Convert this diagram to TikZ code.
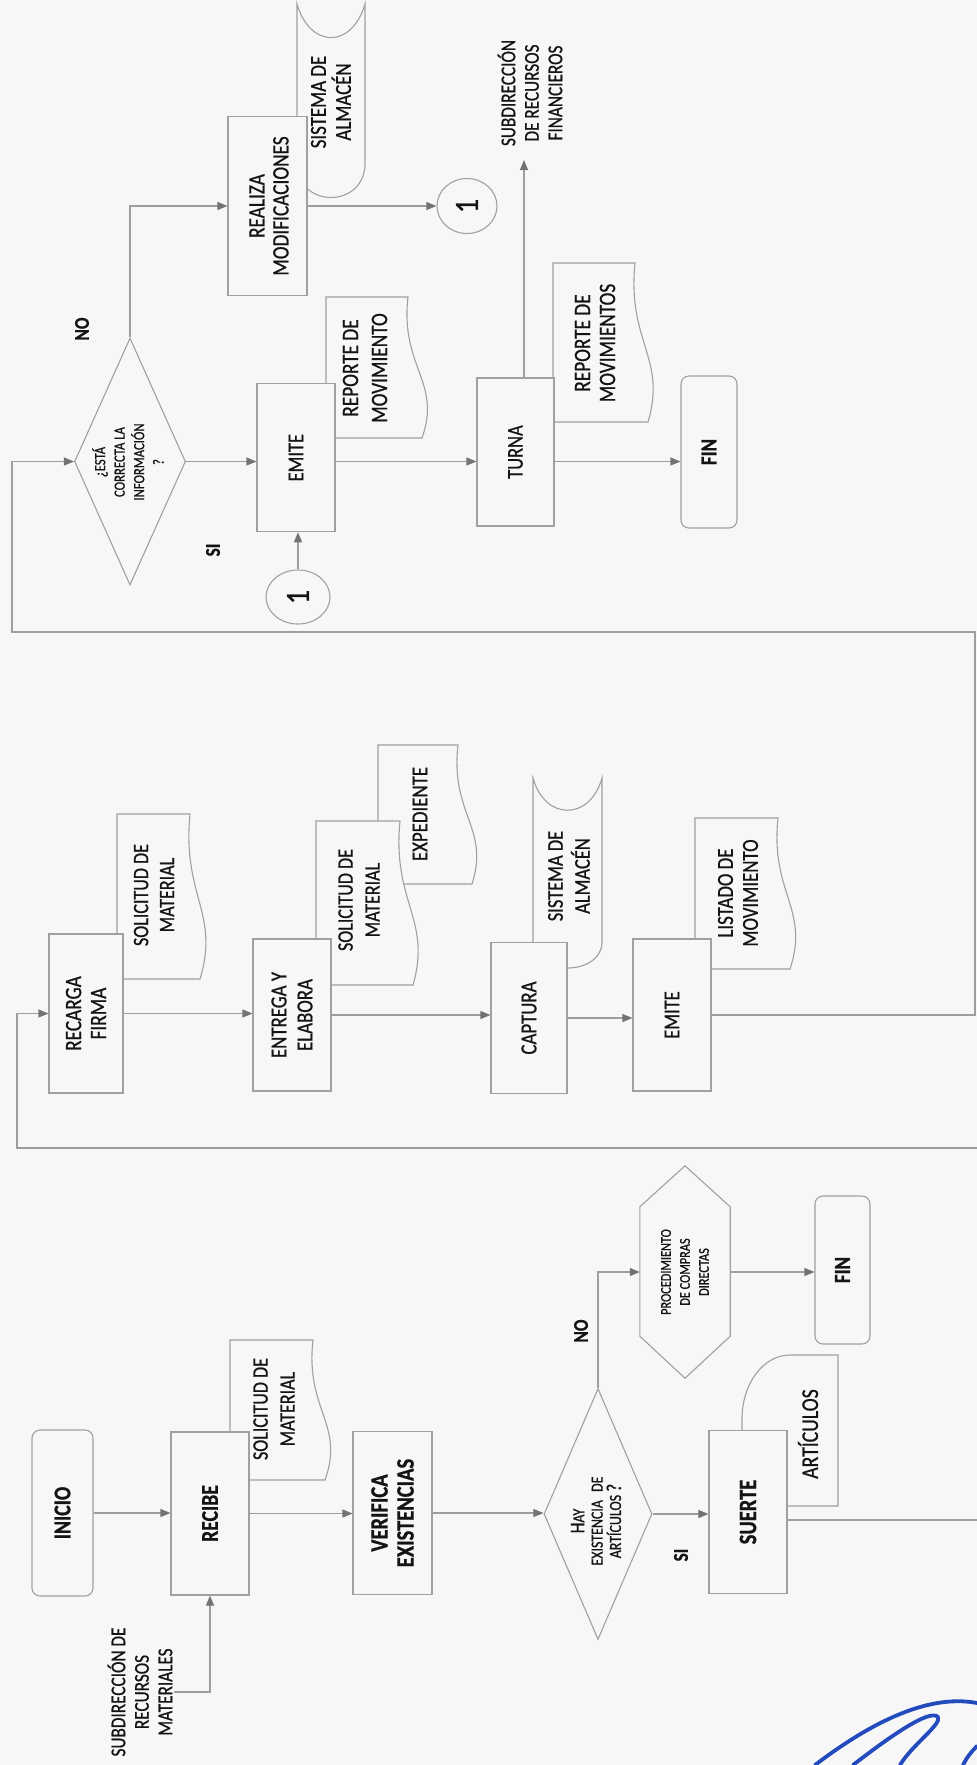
\documentclass[tikz,border=0pt]{standalone}
\usepackage{fontspec}
\setmainfont{Carlito}[FakeStretch=0.82, FakeBold=0.8]
\usetikzlibrary{arrows.meta,shapes.geometric,calc}
\definecolor{bg}{RGB}{247,247,247}
\definecolor{boxc}{RGB}{160,160,160}
\definecolor{linec}{RGB}{158,158,158}
\definecolor{tipc}{RGB}{115,115,115}
\definecolor{ink}{RGB}{35,75,190}
\definecolor{txtc}{RGB}{20,20,20}
\newcommand{\fsz}[2]{\fontsize{#1}{#2}\selectfont}
\tikzset{
  box/.style={draw=boxc, fill=bg, line width=1.1pt, inner sep=0pt},
  term/.style={box, rounded corners=8pt},
  shp/.style={draw=boxc, fill=bg, line width=1.1pt},
  dia/.style={diamond, draw=boxc, fill=bg, line width=1.1pt, inner sep=0pt},
  circ/.style={ellipse, draw=boxc, fill=bg, line width=1.1pt, inner sep=0pt},
  lbl/.style={rotate=90, align=center, inner sep=1pt, text=txtc},
  conn/.style={draw=linec, line width=1.1pt},
  arr/.style={conn, -{Triangle[length=10pt,width=8pt,color=tipc]}},
}
\begin{document}
\begin{tikzpicture}[x=1pt,y=-1pt]
\fill[bg] (0,0) rectangle (977,1765);
\useasboundingbox (0,0) rectangle (977,1765);

% ================= ROW 1 (bottom strip) =================
\node[term, minimum width=61pt, minimum height=166pt] (inicio) at (62.5,1513) {};
\node[lbl, font=\bfseries\fsz{24}{26}] (tinicio) at (inicio) {INICIO};

\draw[shp] (230,1480) -- (230,1340) -- (313,1340) .. controls (305,1410) and (345,1424) .. (325,1480) -- cycle;
\node[box, minimum width=78pt, minimum height=163pt] (recibe) at (210,1513.5) {};
\node[lbl, font=\bfseries\fsz{24}{26}] (trecibe) at (recibe) {RECIBE};
\node[lbl, font=\fsz{22}{27}] (tsol1) at (274,1409) {SOLICITUD DE\\MATERIAL};

\node[box, minimum width=79pt, minimum height=163pt] (verifica) at (392.5,1513) {};
\node[lbl, font=\bfseries\fsz{25}{26}] (tverifica) at (verifica) {VERIFICA\\EXISTENCIAS};

\node[dia, minimum width=108pt, minimum height=251pt] (d1) at (598,1514) {};
\node[lbl, font=\fsz{17}{18.3}] (td1) at (596,1521) {{\fsz{21}{18.3}H}AY\\EXISTENCIA\hspace{5pt} DE\\ARTÍCULOS {\fsz{21}{18.3}?}};

\node[minimum width=90pt, minimum height=212pt, inner sep=0pt] (hex) at (685,1272) {};
\draw[shp] (hex.north) -- ([yshift=-41pt]hex.north east) -- ([yshift=42pt]hex.south east) -- (hex.south) -- ([yshift=42pt]hex.south west) -- ([yshift=-41pt]hex.north west) -- cycle;
\node[lbl, font=\fsz{15}{19}] (thex) at (hex) {PROCEDIMIENTO\\DE COMPRAS\\DIRECTAS};

\node[term, minimum width=55pt, minimum height=148pt] (fin1) at (842.5,1270) {};
\node[lbl, font=\bfseries\fsz{23}{25}] (tfin1) at (fin1) {FIN};

\draw[shp] (742,1506) -- (742,1419) .. controls (742,1384) and (763,1355) .. (790,1355) -- (838,1355) -- (838,1506) -- cycle;
\node[box, minimum width=78pt, minimum height=163pt] (suerte) at (748,1512) {};
\node[lbl, font=\bfseries\fsz{25}{26}] (tsuerte) at (suerte) {SUERTE};
\node[lbl, font=\fsz{24}{26}] (tart) at (808,1434) {ARTÍCULOS};

\node[lbl, font=\bfseries\fsz{21}{22}] (no1) at (581,1331) {NO};
\node[lbl, font=\bfseries\fsz{21}{22}] (si1) at (681,1555) {SI};

\node[lbl, font=\fsz{21}{23.5}] (subm) at (140,1692) {SUBDIRECCIÓN DE\\RECURSOS\\MATERIALES};

\draw[arr] (inicio.east) -- (inicio.east -| recibe.west);
\draw[arr] (recibe.east) -- (recibe.east -| verifica.west);
\draw[arr] (verifica.east) -- (verifica.east -| d1.west);
\draw[arr] (d1.east) -- (d1.east -| suerte.west);
\draw[arr] (d1.north) |- (hex.west);
\draw[arr] (hex.east) -- (hex.east -| fin1.west);
\draw[arr] (subm.south) -| (recibe.south);
\coordinate (r1) at (977,1520);
\draw[conn] (suerte.east |- r1) -- (r1);

% ================= ROW 2 (middle strip) =================
\draw[shp] (117,979) -- (117,814) -- (190,814) .. controls (182,896) and (220,913) .. (200,979) -- cycle;
\node[box, minimum width=74pt, minimum height=159pt] (recarga) at (86,1013.5) {};
\node[lbl, font=\fsz{23.5}{25}] (trecarga) at (recarga) {RECARGA\\FIRMA};
\node[lbl, font=\fsz{22}{26}] (tsol2) at (154,895) {SOLICITUD DE\\MATERIAL};

\draw[shp] (378,884) -- (378,745) -- (458,745) .. controls (450,814) and (490,828) .. (472,884) -- cycle;
\draw[shp] (316,985) -- (316,821) -- (400,821) .. controls (392,903) and (432,919) .. (413,985) -- cycle;
\node[box, minimum width=78pt, minimum height=152pt] (entrega) at (292,1015) {};
\node[lbl, font=\fsz{23}{26}] (tentrega) at (entrega) {ENTREGA Y\\ELABORA};
\node[lbl, font=\fsz{22}{27}] (tsol3) at (359,900) {SOLICITUD DE\\MATERIAL};
\node[lbl, font=\fsz{23}{25}] (texp) at (420,814) {EXPEDIENTE};

\draw[shp] (533,778) .. controls (545,821) and (590,821) .. (602,778) -- (602,944) .. controls (599,976) and (536,976) .. (533,944) -- cycle;
\node[box, minimum width=76pt, minimum height=151pt] (captura) at (529,1018) {};
\node[lbl, font=\fsz{23}{25}] (tcaptura) at (captura) {CAPTURA};
\node[lbl, font=\fsz{22.5}{27}] (tsis2) at (569,876) {SISTEMA DE\\ALMACÉN};

\draw[shp] (695,969) -- (695,818) -- (778,818) .. controls (770,893) and (810,909) .. (790,969) -- cycle;
\node[box, minimum width=78pt, minimum height=152pt] (emite2) at (672,1015) {};
\node[lbl, font=\fsz{22.5}{25}] (temite2) at (emite2) {EMITE};
\node[lbl, font=\fsz{23}{25}] (tlist) at (738,893) {LISTADO DE\\MOVIMIENTO};

\draw[arr] (recarga.east) -- (recarga.east -| entrega.west);
\draw[arr] (entrega.east) -- (entrega.east -| captura.west);
\draw[arr] (captura.east) -- (captura.east -| emite2.west);
\coordinate (rb) at (977,1148);
\coordinate (lb) at (17,1148);
\draw[arr] (rb) -- (lb) |- (recarga.west);

% ================= ROW 3 (top strip) =================
\node[dia, minimum width=111pt, minimum height=247pt] (d3) at (130,461.5) {};
\node[lbl, font=\fsz{15.5}{19.5}] (td3) at (128,462) {¿ESTÁ\\CORRECTA LA\\INFORMACIÓN\\?};

\draw[shp] (297,4) .. controls (310,48.8) and (352,48.8) .. (365,4) -- (365,166) .. controls (362,208) and (300,208) .. (297,166) -- cycle;
\node[box, minimum width=79pt, minimum height=179pt] (realiza) at (267.5,206) {};
\node[lbl, font=\fsz{23.5}{24}] (trealiza) at (269,206) {REALIZA\\MODIFICACIONES};
\node[lbl, font=\fsz{23}{25}] (tsis3) at (331,102) {SISTEMA DE\\ALMACÉN};

\node[circ, minimum width=60pt, minimum height=55pt] (c1a) at (467,206) {};
\node[lbl, font=\fsz{34}{36}] (tc1a) at (c1a) {1};

\draw[shp] (326,438) -- (326,297) -- (408,297) .. controls (400,367) and (442,382) .. (422,438) -- cycle;
\node[box, minimum width=78pt, minimum height=148pt] (emite3) at (296,457.7) {};
\node[lbl, font=\fsz{22.5}{25}] (temite3) at (emite3) {EMITE};
\node[lbl, font=\fsz{23.5}{29}] (trep1) at (365,368) {REPORTE DE\\MOVIMIENTO};

\node[circ, minimum width=64pt, minimum height=54pt] (c1b) at (298,597) {};
\node[lbl, font=\fsz{34}{36}] (tc1b) at (c1b) {1};

\draw[shp] (553,422) -- (553,263) -- (635,263) .. controls (627,342) and (667,358) .. (648,422) -- cycle;
\node[box, minimum width=77pt, minimum height=148pt] (turna) at (515.5,452) {};
\node[lbl, font=\fsz{22.5}{25}] (tturna) at (turna) {TURNA};
\node[lbl, font=\fsz{23.5}{25}] (trep2) at (595,343) {REPORTE DE\\MOVIMIENTOS};

\node[term, minimum width=56pt, minimum height=152pt] (fin3) at (709,452) {};
\node[lbl, font=\bfseries\fsz{23}{25}] (tfin3) at (fin3) {FIN};

\node[lbl, font=\fsz{21}{23.5}] (subf) at (530,93) {SUBDIRECCIÓN\\DE RECURSOS\\FINANCIEROS};

\node[lbl, font=\bfseries\fsz{21}{22}] (no3) at (82,329) {NO};
\node[lbl, font=\bfseries\fsz{21}{22}] (si3) at (213,550) {SI};

\draw[arr] (d3.east) -- (d3.east -| emite3.west);
\draw[arr] (emite3.east |- d3.east) -- (d3.east -| turna.west);
\draw[arr] (turna.east |- d3.east) -- (d3.east -| fin3.west);
\draw[arr] (d3.north) |- (realiza.west);
\draw[arr] (realiza.east) -- (c1a.west);
\draw[arr] (c1b.north) -- (c1b.north |- emite3.south);
\coordinate (tf) at (524,160);
\draw[arr] (turna.north -| tf) -- (tf);

\coordinate (rt) at (975,632);
\coordinate (lt) at (12,632);
\draw[arr] (emite2.east) -| (rt) -- (lt) |- (d3.west);

% ================= ink mark =================
\draw[ink, line width=3.8pt, line cap=round] (815,1765) .. controls (865,1727) and (925,1693) .. (977,1703);
\draw[ink, line width=3.8pt, line cap=round, line join=round] (853,1765) .. controls (888,1738) and (930,1708) .. (938,1717) .. controls (942,1724) and (912,1745) .. (900,1765);
\draw[ink, line width=3.8pt, line cap=round] (963,1765) .. controls (967,1757) and (972,1751) .. (977,1746);
\end{tikzpicture}
\end{document}
